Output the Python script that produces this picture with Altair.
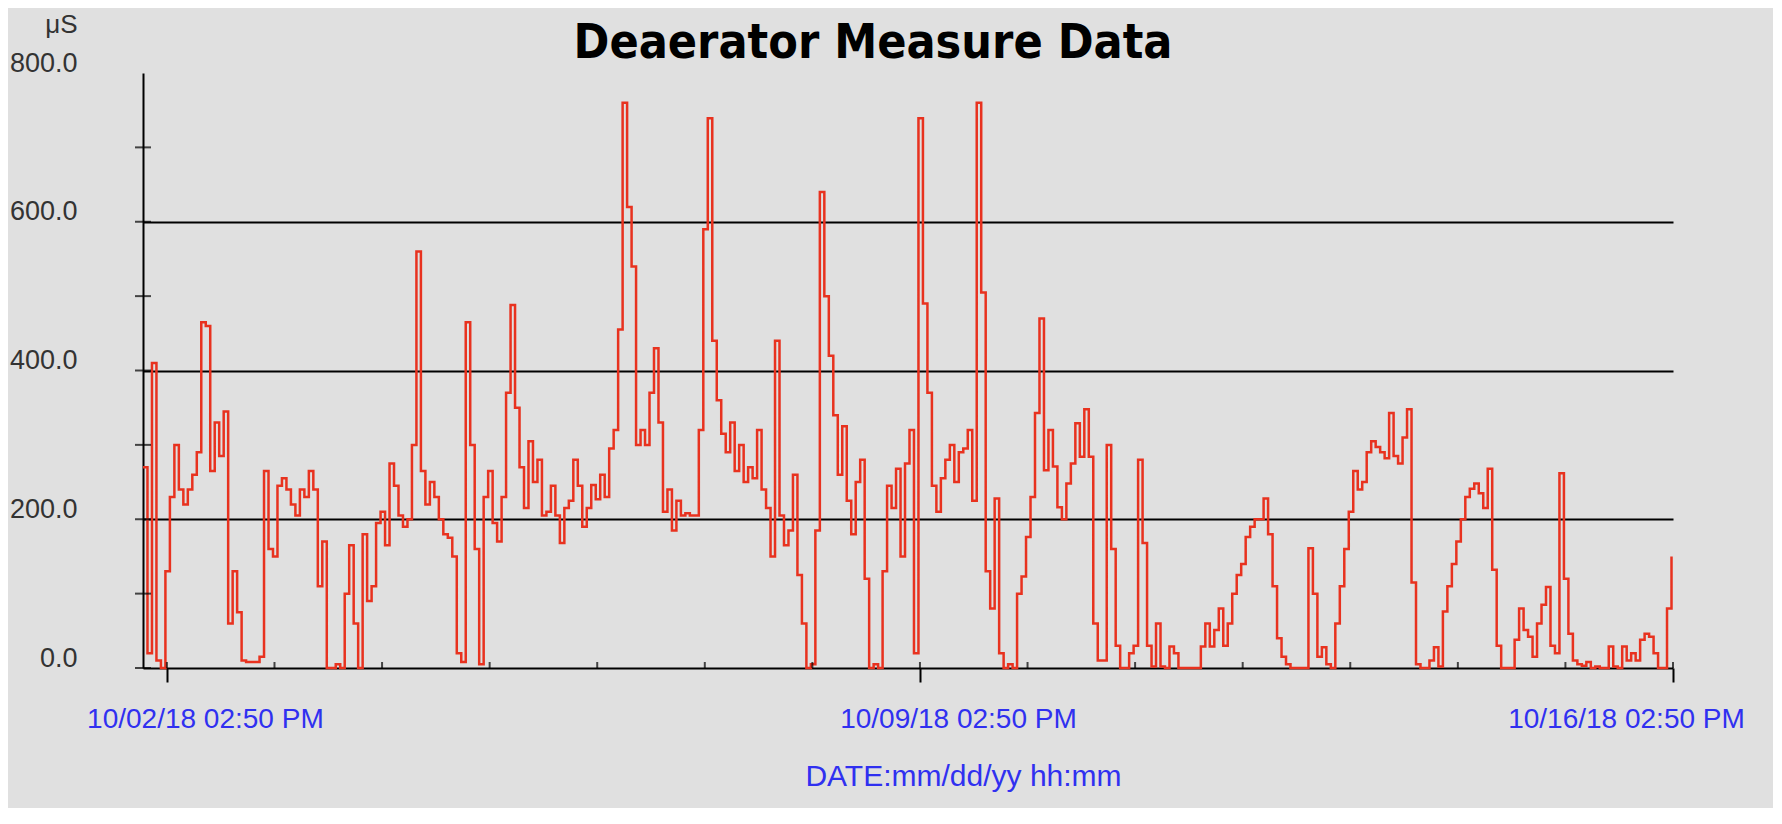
import altair as alt
import pandas as pd

# ---- data (hourly readings) ----
START = "2018-10-02 09:30"
vals_a = [270, 20, 410, 10, 0, 130, 230, 300, 240, 220, 240, 260,
          290, 465, 460, 265, 330, 285, 345, 60, 130, 75, 10, 8,
          8, 8, 15, 265, 160, 150, 245, 255, 240, 220, 205, 240,
          230, 265, 240, 110, 170, 0, 0, 5, 0, 100, 165, 60,
          0, 180, 90, 110, 195, 210, 165, 275, 245, 205, 190, 200,
          300, 560, 265, 220, 250, 230, 200, 180, 175, 150, 20, 8]
vals_b = [465, 300, 160, 5, 230, 265, 195, 170, 230, 370, 488, 350,
          270, 215, 305, 250, 280, 205, 210, 245, 205, 168, 215, 225,
          280, 245, 190, 215, 246, 227, 260, 230, 295, 320, 455, 760,
          620, 540, 300, 320, 300, 370, 430, 330, 210, 240, 185, 225,
          205, 208, 205, 205, 320, 590, 739, 440, 360, 315, 290, 330,
          265, 300, 250, 270, 255, 320, 240, 215, 150, 440, 205, 165]
vals_c = [185, 260, 125, 60, 0, 5, 185, 640, 500, 420, 340, 260,
          325, 225, 180, 250, 280, 120, 0, 5, 0, 130, 245, 215,
          268, 150, 275, 320, 20, 739, 490, 370, 245, 210, 255, 280,
          300, 250, 290, 295, 320, 225, 760, 505, 130, 80, 228, 20,
          0, 5, 0, 100, 123, 176, 230, 343, 470, 266, 320, 271,
          216, 200, 248, 275, 329, 284, 348, 284, 60, 10, 10, 300]
vals_d = [160, 30, 0, 0, 20, 30, 280, 168, 30, 2, 60, 2,
          0, 29, 20, 0, 0, 0, 0, 0, 29, 60, 29, 51,
          80, 30, 60, 100, 125, 140, 176, 190, 200, 200, 228, 180,
          110, 40, 15, 5, 0, 0, 0, 0, 161, 100, 15, 28,
          5, 0, 60, 110, 160, 210, 265, 240, 250, 290, 305, 297,
          290, 282, 343, 285, 275, 310, 348, 115, 5, 0, 0, 10]
vals_e = [28, 2, 76, 110, 140, 170, 200, 230, 241, 248, 235, 215,
          268, 132, 30, 0, 0, 0, 38, 80, 51, 42, 15, 60,
          85, 109, 30, 20, 262, 120, 46, 10, 5, 3, 8, 0,
          2, 0, 0, 29, 2, 0, 29, 10, 20, 10, 38, 46,
          42, 20, 0, 0, 80, 150]

values = vals_a + vals_b + vals_c + vals_d + vals_e
times = pd.date_range(START, periods=len(values), freq="h")
df = pd.DataFrame({"time": times, "value": values})

major_days = [2, 9, 16]
y_tick_values = [0, 100, 200, 300, 400, 500, 600, 700]
y_label_values = [0, 200, 400, 600, 800]

minor_df = pd.DataFrame({"time": pd.date_range("2018-10-02 14:50", periods=15, freq="D"),
                         "value": [0] * 15})
ytick_df = pd.DataFrame({"time": [pd.Timestamp(START)] * len(y_tick_values),
                         "value": y_tick_values})

RED = "#e8321f"
BLUE = "#3030f0"
GREY_TXT = "#333333"
BG = "#e0e0e0"
FONT = "Liberation Sans"
TITLE_FONT = "Liberation Sans Narrow, DejaVu Sans Condensed, Roboto Condensed, Liberation Sans, sans-serif"

x_scale = alt.Scale(domain=[alt.DateTime(year=2018, month=10, date=2, hours=9, minutes=30),
                            alt.DateTime(year=2018, month=10, date=16, hours=14, minutes=50)])
y_scale = alt.Scale(domain=[0, 800], nice=False)

major_dt = [alt.DateTime(year=2018, month=10, date=d, hours=14, minutes=50) for d in major_days]

x_axis = alt.Axis(
    values=major_dt, format="%m/%d/%y %I:%M %p",
    labelColor=BLUE, labelFont=FONT, labelFontSize=28, labelPadding=23, labelLimit=0,
    labelOffset={"condition": {"test": "date(datum.value) == 16", "value": -47},
                 "value": 38},
    labelFlush=False, labelOverlap=False,
    tickSize=14, tickWidth=2, tickColor="black",
    domainColor="black", domainWidth=2, grid=False,
    title="DATE:mm/dd/yy hh:mm", titleColor=BLUE, titleFont=FONT,
    titleFontSize=30, titleFontWeight="normal",
    titleX=820, titleY=108, titleAlign="center", titleBaseline="middle",
)
y_axis = alt.Axis(
    values=y_label_values, format=".1f", ticks=False,
    grid=True, gridColor="black", gridWidth=2,
    gridOpacity={"condition": {"test": "datum.value == 200 || datum.value == 400 || datum.value == 600",
                               "value": 1}, "value": 0},
    domainColor="black", domainWidth=2,
    labelFont=FONT, labelFontSize=27, labelColor=GREY_TXT, labelPadding=66, labelOffset=-10,
    title="μS", titleAngle=0, titleX=-66, titleY=-49, titleAlign="right",
    titleBaseline="middle", titleFont=FONT, titleFontSize=26, titleFontWeight="normal",
    titleColor=GREY_TXT,
)

base = alt.Chart(df).encode(
    x=alt.X("time:T", scale=x_scale, axis=x_axis),
    y=alt.Y("value:Q", scale=y_scale, axis=y_axis),
)

line = base.mark_line(interpolate="step-after", color=RED, strokeWidth=2.5)

minor_ticks = base.mark_tick(orient="vertical", size=6, thickness=2,
                             color="black", yOffset=-3).properties(data=minor_df)

y_ticks = base.mark_tick(orient="horizontal", size=16, thickness=2,
                         color="black").properties(data=ytick_df)

chart = alt.layer(line, minor_ticks, y_ticks).properties(
    width=1530, height=595,
    title=alt.TitleParams("Deaerator Measure Data", font=TITLE_FONT,
                          fontSize=48, fontWeight="bold", color="black",
                          anchor="middle", dx=-35, dy=99, baseline="alphabetic"),
    autosize=alt.AutoSizeParams(type="none"),
    padding={"left": 135, "top": 65, "right": 100, "bottom": 140},
    background=BG,
).configure_view(stroke=None)

chart.save("out.html", embed_options={"renderer": "svg", "actions": False})
